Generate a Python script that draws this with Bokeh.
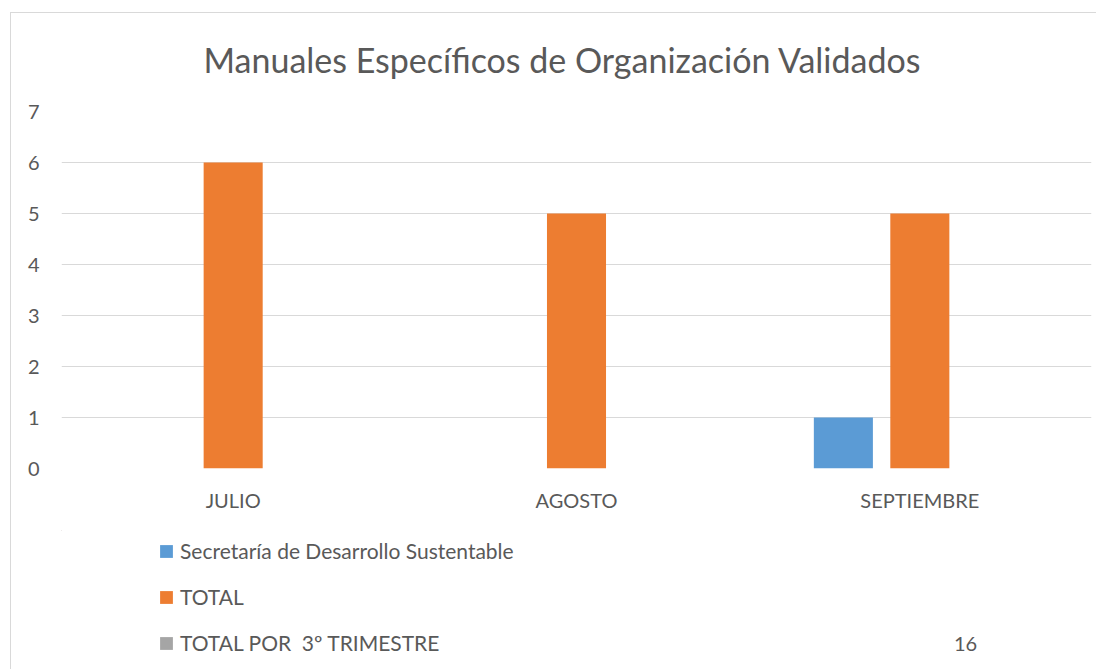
from bokeh.plotting import figure
from bokeh.layouts import column
from bokeh.models import FactorRange, Range1d, Label, Legend, LegendItem, SingleIntervalTicker
from bokeh.transform import dodge
from bokeh.embed import file_html
from bokeh.resources import INLINE

months = ["JULIO", "AGOSTO", "SEPTIEMBRE"]
secretaria = [0, 0, 1]
total = [6, 5, 5]
trimestre = [0, 0, 0]
trimestre_total = 16
series_names = ["Secretaría de Desarrollo Sustentable", "TOTAL", "TOTAL POR  3º TRIMESTRE"]
colors = ["#5B9BD5", "#ED7D31", "#A5A5A5"]
title_text = "Manuales Específicos de Organización Validados"

FONT = "Lato"
TXT = "#595959"

p = figure(x_range=FactorRange(factors=months, range_padding=0), y_range=Range1d(0, 7),
           width=1096, height=530, output_backend="svg", toolbar_location=None,
           min_border_left=61, min_border_right=5, min_border_top=111, min_border_bottom=62,
           title=title_text)
p.outline_line_color = None
p.background_fill_color = None
p.border_fill_color = None
p.title.align = "left"
p.title.offset = 142
p.title.text_font = FONT
p.title.text_font_size = "34px"
p.title.text_font_style = "normal"
p.title.text_color = TXT
p.title.standoff = 64

src = dict(m=months, a=secretaria, b=total, c=trimestre)
w = 0.172
off = 0.2227
p.vbar(x=dodge("m", -off, range=p.x_range), top="a", width=w, source=src,
       fill_color=colors[0], line_color=None)
p.vbar(x=dodge("m", 0, range=p.x_range), top="b", width=w, source=src,
       fill_color=colors[1], line_color=None)
p.vbar(x=dodge("m", off, range=p.x_range), top="c", width=w, source=src,
       fill_color=colors[2], line_color=None)

p.yaxis.ticker = SingleIntervalTicker(interval=1)
p.ygrid.grid_line_color = "#d9d9d9"
p.ygrid.grid_line_width = 1
p.xgrid.grid_line_color = None
for ax in (p.xaxis, p.yaxis):
    ax.axis_line_color = None
    ax.major_tick_line_color = None
    ax.minor_tick_line_color = None
    ax.major_label_text_color = TXT
    ax.major_label_text_font = FONT
    ax.major_label_text_font_size = "20px"
p.yaxis.major_label_standoff = 16
p.xaxis.major_label_standoff = 13

# legend / data-table area (data coords = page pixels)
q = figure(x_range=Range1d(61, 1091), y_range=Range1d(669, 530), width=1096, height=139,
           output_backend="svg", toolbar_location=None,
           min_border_left=61, min_border_right=5, min_border_top=0, min_border_bottom=0)
q.axis.visible = False
q.grid.visible = False
q.outline_line_color = None
q.background_fill_color = None
q.border_fill_color = None
rs = [q.vbar(x=[-1000], top=[0], width=1, fill_color=c, line_color=None) for c in colors]
legend = Legend(items=[LegendItem(label=n, renderers=[r]) for n, r in zip(series_names, rs)],
                location=(97, 14), orientation="vertical", glyph_width=16, glyph_height=16,
                label_standoff=6, label_height=20, spacing=21, padding=0, margin=0,
                border_line_color=None, background_fill_alpha=0,
                label_text_font=FONT, label_text_font_size="21px", label_text_color=TXT)
q.add_layout(legend, "center")
q.add_layout(Label(x=965, y=643, text=str(trimestre_total), text_align="center",
                   text_baseline="middle", text_font=FONT, text_font_size="20px", text_color=TXT))

layout = column(p, q, spacing=0)
layout.styles = {
    "background-image": "linear-gradient(#d9d9d9,#d9d9d9), linear-gradient(#d9d9d9,#d9d9d9)",
    "background-size": "1px 100%, 100% 1px",
    "background-position": "10px 12px, 10px 12px",
    "background-repeat": "no-repeat",
    "background-color": "white",
}
open("out.html", "w").write(file_html(layout, INLINE))
